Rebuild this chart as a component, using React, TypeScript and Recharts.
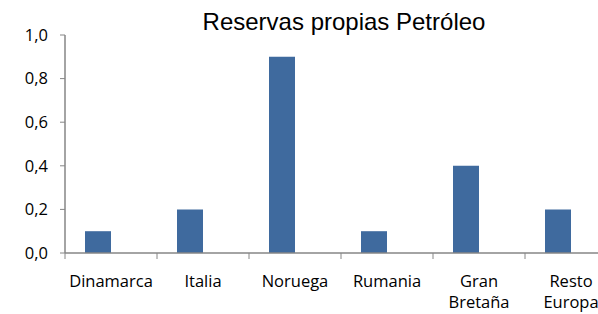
import { BarChart, Bar, XAxis, YAxis } from 'recharts';

const categories = ['Dinamarca', 'Italia', 'Noruega', 'Rumania', 'Gran Bretaña', 'Resto Europa'];
const petroleo = [0.1, 0.2, 0.9, 0.1, 0.4, 0.2];
// second (empty) series of the original clustered chart: keeps the bar on the left half
const otraSerie: (number | null)[] = [null, null, null, null, null, null];
const yTicks = [0, 0.2, 0.4, 0.6, 0.8, 1.0];

const BAR_COLOR = '#3F6A9E';
const AXIS_COLOR = '#868686';
const LABEL_FONT = '"Open Sans", sans-serif';

const data = categories.map((name, i) => ({
  name,
  petroleo: petroleo[i],
  otra: otraSerie[i],
}));

function formatTick(v: number): string {
  return v.toFixed(1).replace('.', ',');
}

function CategoryTick(props: any) {
  const { x, y, payload } = props;
  const half = payload.offset ?? 46;
  const lines = String(payload.value).split(' ');
  return (
    <g>
      <line x1={x - half} x2={x - half} y1={y} y2={y + 6} stroke={AXIS_COLOR} strokeWidth={1} />
      <text x={x} y={y + 34} textAnchor="middle" fontSize={16.5} fontFamily={LABEL_FONT} fill="#000">
        {lines.map((l, i) => (
          <tspan key={i} x={x} dy={i === 0 ? 0 : 21}>{l}</tspan>
        ))}
      </text>
    </g>
  );
}

export default function App() {
  return (
    <div style={{ position: 'absolute', left: 0, top: 0, width: 598, height: 314, overflow: 'hidden', background: '#fff' }}>
      <div
        style={{
          position: 'absolute', left: 0, top: 10, width: 688, textAlign: 'center',
          fontFamily: '"Liberation Sans", Arial, sans-serif', fontSize: 24, lineHeight: '24px', color: '#000',
        }}
      >
        Reservas propias Petróleo
      </div>
      <BarChart
        width={627}
        height={314}
        data={data}
        margin={{ top: 35, right: 10, bottom: 0, left: 0 }}
        barCategoryGap={20}
        barGap={0}
      >
        <XAxis
          dataKey="name"
          height={61}
          interval={0}
          tickSize={0}
          tickMargin={0}
          tickLine={false}
          axisLine={{ stroke: AXIS_COLOR, strokeWidth: 1.5 }}
          tick={<CategoryTick />}
        />
        <YAxis
          width={65}
          domain={[0, 1]}
          ticks={yTicks}
          tickFormatter={formatTick}
          tickSize={5}
          tickMargin={12}
          axisLine={{ stroke: AXIS_COLOR, strokeWidth: 1.5 }}
          tickLine={{ stroke: AXIS_COLOR }}
          tick={{ fontSize: 16.5, fontFamily: LABEL_FONT, fill: '#000' }}
        />
        <Bar dataKey="petroleo" fill={BAR_COLOR} isAnimationActive={false} />
        <Bar dataKey="otra" fill="#C0504D" isAnimationActive={false} />
      </BarChart>
    </div>
  );
}
